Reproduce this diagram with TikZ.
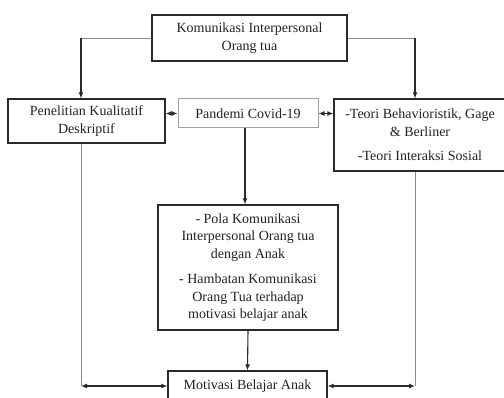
\documentclass[tikz,border=0pt]{standalone}
\usepackage{fontspec}
\setmainfont{Liberation Serif}
\usepackage{xcolor}
\usetikzlibrary{arrows.meta, positioning, calc}
\definecolor{BoxLine}{HTML}{2A2A2A}
\definecolor{SoftGray}{HTML}{8A8A8A}
\definecolor{InkText}{HTML}{222222}

\begin{document}
\begin{tikzpicture}[
    x=1pt, y=-1pt,
    box/.style={rectangle, draw=BoxLine, line width=1.2pt, align=center, inner sep=2pt,
                font=\fontsize{14}{17.5}\selectfont, text=InkText},
    lightbox/.style={box, draw=SoftGray!80, line width=1pt},
    thinline/.style={SoftGray, line width=0.8pt},
    arr/.style={BoxLine, line width=1.1pt, -{Latex[length=6pt,width=5pt]}},
    twoway/.style={BoxLine, line width=1.1pt, {Latex[length=6pt,width=5pt]}-{Latex[length=6pt,width=5pt]}}
]
    % Frame of the picture
    \useasboundingbox (0,0) rectangle (504,398);
    \clip (0,0) rectangle (504,398);

    % Boxes
    \node[box, minimum width=195pt, minimum height=46pt] at (249.5,38) (komunikasi)
        {Komunikasi Interpersonal\\Orang tua};
    \node[box, minimum width=157pt, minimum height=44pt] at (86.5,121) (penelitian)
        {Penelitian Kualitatif\\Deskriptif};
    \node[lightbox, minimum width=140pt, minimum height=29pt] at (248,113.5) (pandemi)
        {Pandemi Covid-19};
    \node[box, minimum width=172pt, minimum height=72pt] at (420,135) (teori)
        {-Teori Behavioristik, Gage\\\& Berliner\\[7pt]-Teori Interaksi Sosial};
    \node[box, minimum width=180pt, minimum height=125pt] at (248,267.5) (pola)
        {- Pola Komunikasi\\Interpersonal Orang tua\\dengan Anak\\[8pt]- Hambatan Komunikasi\\Orang Tua terhadap\\motivasi belajar anak};
    \node[box, minimum width=159pt, minimum height=30pt] at (247.5,386) (motivasi)
        {Motivasi Belajar Anak};

    % From the top box down to both sides
    \coordinate (ltop) at ([xshift=-5.5pt]penelitian.north |- komunikasi.west);
    \coordinate (rtop) at ([xshift=-5pt]teori.north |- komunikasi.east);
    \draw[thinline] (komunikasi.west) -- (ltop);
    \draw[arr] (ltop) -- ([xshift=-5.5pt]penelitian.north);
    \draw[thinline] (komunikasi.east) -- (rtop);
    \draw[arr] (rtop) -- ([xshift=-5pt]teori.north);

    % Links beside the pandemic box
    \draw[twoway] (penelitian.east |- pandemi.west) -- (pandemi.west);
    \draw[twoway] (pandemi.east) -- (teori.west |- pandemi.east);

    % Middle column
    \draw[arr] ([xshift=-3pt]pandemi.south) -- ([xshift=-3pt]pola.north);
    \draw[arr] (pola.south) -- (motivasi.north);

    % Side lines down to the last box
    \coordinate (lcorner) at ([xshift=-5.5pt]penelitian.south |- motivasi.west);
    \coordinate (rcorner) at ([xshift=-5pt]teori.south |- motivasi.east);
    \draw[thinline] ([xshift=-5.5pt]penelitian.south) -- (lcorner);
    \draw[thinline] ([xshift=-5pt]teori.south) -- (rcorner);
    \draw[twoway] (lcorner) -- (motivasi.west);
    \draw[twoway] (motivasi.east) -- (rcorner);
\end{tikzpicture}
\end{document}
